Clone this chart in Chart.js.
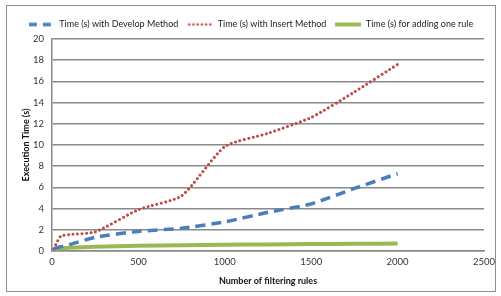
<!DOCTYPE html>
<html>
<head>
<meta charset="utf-8">
<script src="https://cdn.jsdelivr.net/npm/chart.js@4/dist/chart.umd.min.js"></script>
<style>
  html, body { margin: 0; padding: 0; background: #fff; }
  #wrap { position: absolute; left: 0; top: 0; width: 501px; height: 296px; }
</style>
</head>
<body>
<div id="wrap"><canvas id="c" width="501" height="296"></canvas></div>
<script>
const rulesX = [10, 50, 100, 250, 500, 750, 1000, 1250, 1500, 1750, 2000];
const developTimes = [0.2, 0.4, 0.6, 1.3, 1.85, 2.15, 2.75, 3.65, 4.45, 5.9, 7.3];
const insertTimes = [0.2, 1.4, 1.55, 1.8, 3.9, 5.2, 9.85, 11.1, 12.6, 15.0, 17.6];
const addRuleTimes = [0.15, 0.25, 0.3, 0.4, 0.5, 0.55, 0.6, 0.62, 0.65, 0.68, 0.7];
const seriesNames = ['Time (s) with Develop Method', 'Time (s) with Insert Method', 'Time (s) for adding one rule'];
const xTitle = 'Number of filtering rules';
const yTitle = 'Execution Time (s)';

const BLUE = '#4a7ebb', RED = '#be4b48', GREEN = '#98b954';
const FONT = "Lato, 'Open Sans', 'Liberation Sans', sans-serif";

function pts(ys) { return rulesX.map((x, i) => ({ x: x, y: ys[i] })); }

function legendIcon(color, width, dash, cap) {
  const cv = document.createElement('canvas');
  cv.width = 26; cv.height = 6;
  const g = cv.getContext('2d');
  g.strokeStyle = color; g.lineWidth = width; g.lineCap = cap;
  g.setLineDash(dash);
  g.beginPath(); g.moveTo(cap === 'round' ? 2 : 0, 3); g.lineTo(26, 3); g.stroke();
  return cv;
}

const frame = {
  id: 'frame',
  afterDraw(chart) {
    const c = chart.ctx;
    c.save();
    c.strokeStyle = '#8e8e8e'; c.lineWidth = 1;
    c.strokeRect(6.5, 5.5, 489, 286);
    c.restore();
  }
};

new Chart(document.getElementById('c'), {
  type: 'line',
  data: {
    datasets: [
      { label: seriesNames[0], data: pts(developTimes), borderColor: BLUE, backgroundColor: BLUE,
        borderWidth: 3.5, borderDash: [10, 6], tension: 0.2, pointRadius: 0,
        pointStyle: legendIcon(BLUE, 3.5, [8, 6], 'butt') },
      { label: seriesNames[1], data: pts(insertTimes), borderColor: RED, backgroundColor: RED,
        borderWidth: 3, borderDash: [0.01, 4.5], borderCapStyle: 'round', tension: 0.2, pointRadius: 0,
        pointStyle: legendIcon(RED, 2.6, [0.01, 4.2], 'round') },
      { label: seriesNames[2], data: pts(addRuleTimes), borderColor: GREEN, backgroundColor: GREEN,
        borderWidth: 4, tension: 0.2, pointRadius: 0,
        pointStyle: legendIcon(GREEN, 4, [], 'butt') }
    ]
  },
  options: {
    responsive: false,
    animation: false,
    devicePixelRatio: 1,
    layout: { padding: { left: 18, right: 17, top: 11, bottom: 10 } },
    plugins: {
      tooltip: { enabled: false },
      legend: {
        position: 'top',
        labels: { usePointStyle: true, pointStyleWidth: 26, boxWidth: 26, boxHeight: 6, padding: 9,
                  color: '#222', font: { family: FONT, size: 9 } }
      }
    },
    scales: {
      x: {
        type: 'linear', min: 0, max: 2500,
        afterFit: s => { s.height = 35; },
        ticks: { stepSize: 500, color: '#333', font: { family: FONT, size: 9.5 }, padding: 5, maxRotation: 0,
                 callback: v => String(v) },
        grid: { display: false, drawTicks: false },
        border: { display: true, color: '#8a8a8a', width: 1.5 },
        title: { display: true, text: xTitle, color: '#111', font: { family: FONT, size: 9, weight: 'bold' }, padding: { top: 5, bottom: 0 } }
      },
      y: {
        min: 0, max: 20,
        afterFit: s => { s.width = 34; },
        ticks: { stepSize: 2, color: '#333', font: { family: FONT, size: 9.5 }, padding: 8, callback: v => String(v) },
        grid: { color: '#8a8a8a', lineWidth: 1.5, drawTicks: false },
        border: { display: true, color: '#8a8a8a', width: 1.5 },
        title: { display: true, text: yTitle, color: '#111', font: { family: FONT, size: 9, weight: 'bold' }, padding: { top: 3, bottom: 5 } }
      }
    }
  },
  plugins: [frame]
});
</script>
</body>
</html>
